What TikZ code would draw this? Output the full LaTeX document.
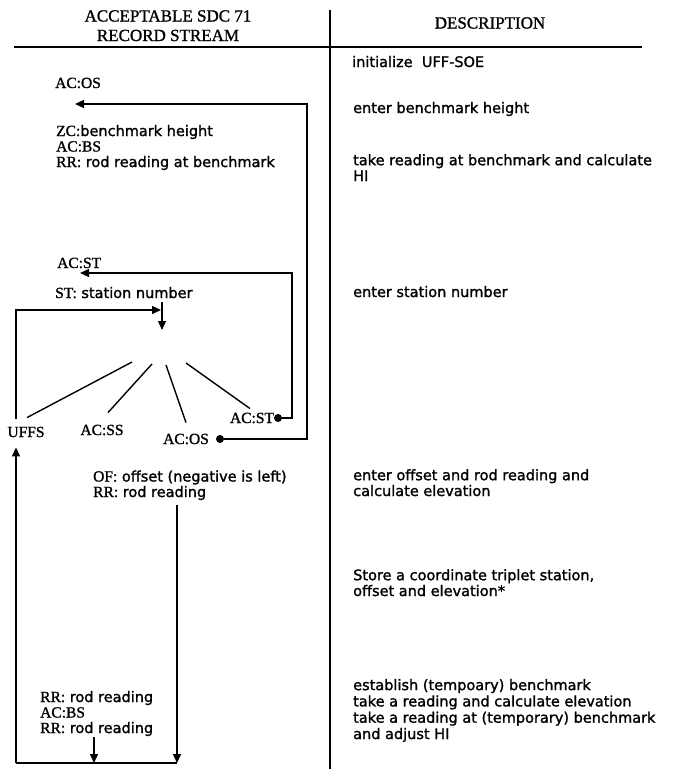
\documentclass[tikz,border=0pt]{standalone}
\usepackage{fontspec}
\setmainfont{Liberation Serif}[FakeBold=1.2]
\newfontfamily\dsans{DejaVu Sans}[FakeBold=1.4]
\usetikzlibrary{arrows.meta}
\newcommand\pfx[1]{{\rmfamily\fontsize{15.5}{15.5}\selectfont #1}}
\begin{document}
\begin{tikzpicture}[x=1pt,y=-1pt,
  hdr/.style={font=\fontsize{17}{19.5}\selectfont, align=center, anchor=base, inner sep=0pt},
  desc/.style={font=\dsans\fontsize{14.5}{15.8}\selectfont, align=left, anchor=base west, inner sep=0pt},
  rec/.style={font=\dsans\fontsize{14.5}{15.5}\selectfont, align=left, anchor=base west, inner sep=0pt},
  lbl/.style={font=\fontsize{15.5}{16}\selectfont, inner sep=1pt},
  ln/.style={line width=1.4pt},
  arr/.style={ln, -{Triangle[length=9pt,width=8pt]}},
  dot/.style={circle, fill, inner sep=0pt, minimum size=8pt}
]
\useasboundingbox (0,0) rectangle (676,769);
\fill[white] (0,0) rectangle (676,769);

% table frame
\coordinate (divT) at (330,10);
\coordinate (divB) at (330,769);
\coordinate (rulL) at (14,47);
\coordinate (rulR) at (642,47);
\draw[ln] (divT) -- (divB);
\draw[ln] (rulL) -- (rulR);

% headers (base anchor = last line)
\node[hdr] (h1) at (168,41) {ACCEPTABLE SDC 71\\RECORD STREAM};
\node[hdr] (h2) at (490,28.5) {DESCRIPTION};

% left column records
\node[lbl, anchor=base west, inner sep=0pt] (acos0) at (55,88) {AC:OS};
\node[rec] (zc) at (56,167) {\pfx{ZC:}benchmark height\\\pfx{AC:BS}\\\pfx{RR:} rod reading at benchmark};
\node[lbl, anchor=base west, inner sep=0pt] (acst0) at (57,268) {AC:ST};
\node[rec] (st) at (55,298) {\pfx{ST:} station number};
\node[rec] (of) at (93,497) {\pfx{OF:} offset (negative is left)\\\pfx{RR:} rod reading};
\node[rec] (rr) at (40,733) {\pfx{RR:} rod reading\\\pfx{AC:BS}\\\pfx{RR:} rod reading};

% branch labels
\node[lbl] (uffs) at (26,432) {UFFS};
\node[lbl] (acss) at (102,430) {AC:SS};
\node[lbl] (acos) at (186,439) {AC:OS};
\node[lbl] (acst) at (252,418) {AC:ST};
\node[dot] (dotos) at (220,439) {};
\node[dot] (dotst) at (278,418) {};

% right column descriptions (base anchor = last line)
\node[desc] (d1) at (352,67) {initialize\ \ UFF-SOE};
\node[desc] (d2) at (353,113) {enter benchmark height};
\node[desc] (d3) at (353,181) {take reading at benchmark and calculate\\HI};
\node[desc] (d4) at (353,297) {enter station number};
\node[desc] (d5) at (353,496) {enter offset and rod reading and\\calculate elevation};
\node[desc] (d6) at (353,596) {Store a coordinate triplet station,\\offset and elevation*};
\node[desc, font=\dsans\fontsize{14.5}{16.3}\selectfont] (d7) at (353,739) {establish (tempoary) benchmark\\take a reading and calculate elevation\\take a reading at (temporary) benchmark\\and adjust HI};

% loops back
\coordinate (osC) at (307,104);
\coordinate (osTip) at (75,104);
\draw[arr] (dotos) -| (osC) -- (osTip);
\coordinate (stC) at (292,273);
\coordinate (stTip) at (80,273);
\draw[arr] (dotst) -| (stC) -- (stTip);

% UFFS loop to hub
\coordinate (hjoin) at (161,310);
\draw[arr] ([xshift=-10pt,yshift=7pt]uffs.north) |- (hjoin);
\coordinate (dtop) at (162,302);
\coordinate (dtip) at (162,330);
\draw[arr] (dtop) -- (dtip);

% spokes
\coordinate (s1) at (132,362);
\coordinate (s2) at (152,364);
\coordinate (s3) at (166,365);
\coordinate (s4) at (186,363);
\draw[ln] (s1) -- ([xshift=1pt,yshift=8pt]uffs.north);
\draw[ln] (s2) -- ([xshift=6pt,yshift=11pt]acss.north);
\draw[ln] (s3) -- ([xshift=0pt,yshift=10pt]acos.north);
\draw[ln] (s4) -- ([xshift=-2pt,yshift=3pt]acst.north);

% bottom loop
\coordinate (bl) at (16,763);
\coordinate (br) at (177,763);
\coordinate (ofv) at (177,505);
\coordinate (rrv) at (94,737);
\draw[ln] (bl) -- (br);
\draw[arr] (bl) -- ([xshift=-10pt,yshift=-9pt]uffs.south);
\draw[arr] (ofv) -- (br);
\draw[arr] (rrv) -- (rrv |- bl);
\end{tikzpicture}
\end{document}
